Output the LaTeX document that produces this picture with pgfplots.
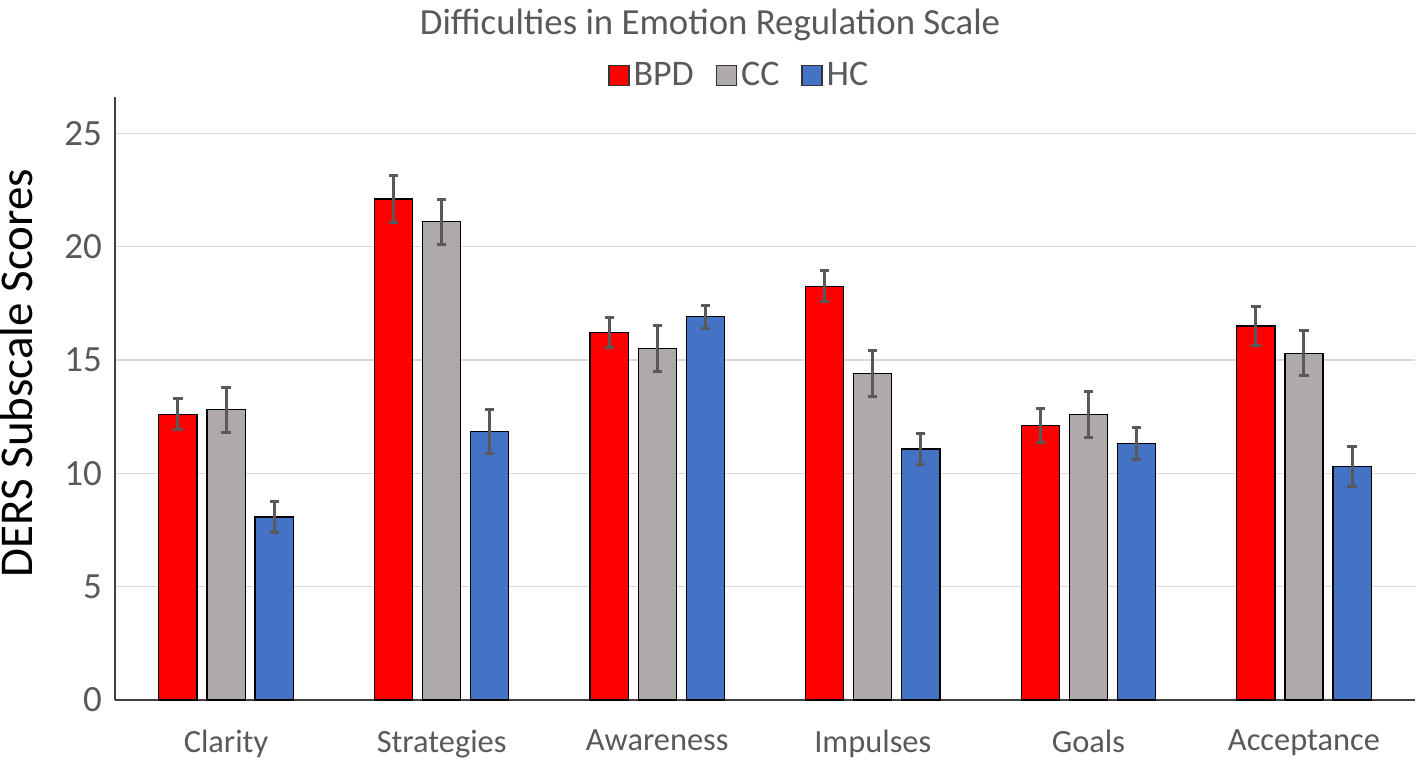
\documentclass[border=0pt]{standalone}
\usepackage{fontspec}
\setmainfont{Carlito}
\usepackage{pgfplots}
\pgfplotsset{compat=1.18}
\definecolor{bpd}{HTML}{FF0000}
\definecolor{cc}{HTML}{AEAAAA}
\definecolor{hc}{HTML}{4472C4}
\definecolor{txtgray}{HTML}{595959}
\definecolor{gridgray}{HTML}{D9D9D9}

\begin{document}
\begin{tikzpicture}
% fix the page to the reference proportions (1px = 0.5pt)
\path[use as bounding box] (-57.5pt,-30.5pt) rectangle (651.5pt,350pt);
\begin{axis}[
    at={(0,0)}, anchor=south west,
    scale only axis,
    width=650pt, height=301.5pt,
    xmin=-0.515, xmax=5.515,
    ymin=0, ymax=26.6,
    xtick={0,1,2,3,4,5},
    xticklabels={Clarity,Strategies,Awareness,Impulses,Goals,Acceptance},
    ytick={0,5,10,15,20,25},
    major tick length=0pt,
    ymajorgrids, grid style={gridgray, line width=0.6pt},
    axis x line*=bottom, axis y line*=left,
    axis line style={-, black!75, line width=0.8pt},
    /pgf/number format/assume math mode=true,
    yticklabel style={font=\fontsize{18.5}{22}\selectfont, text=txtgray, xshift=-3pt},
    xticklabel style={font=\fontsize{16.2}{19}\selectfont, text=txtgray, yshift=-11.5pt},
    ylabel={DERS Subscale Scores},
    ylabel style={font=\fontsize{23.5}{27}\selectfont, at={(axis description cs:-0.076,0.542)}, anchor=center},
    title={Difficulties in Emotion Regulation Scale},
    title style={font=\fontsize{18.4}{22}\selectfont, text=txtgray, at={(axis description cs:0.4577,1.099)}, anchor=center, yshift=0pt},
    legend columns=3,
    legend style={draw=none, fill=none, at={(0.481,1.036)}, anchor=center,
        font=\fontsize{18}{21}\selectfont, text=txtgray,
        /tikz/every even column/.append style={column sep=9pt}},
    ybar, bar width=0.177,
    error bars/y dir=both, error bars/y explicit,
    error bars/error bar style={line width=1.5pt, color=txtgray},
    error bars/error mark options={rotate=90, line width=1.5pt, mark size=2.3pt, color=txtgray},
]
\addplot[bar shift=-0.223, fill=bpd, draw=black, line width=0.6pt,
    legend image code/.code={\draw[fill=bpd, draw=black!80, line width=0.6pt] (0pt,-5pt) rectangle (10pt,5pt);}]
    coordinates {
    (0,12.6) +- (0,0.68)
    (1,22.1) +- (0,1.04)
    (2,16.2) +- (0,0.66)
    (3,18.25) +- (0,0.68)
    (4,12.1) +- (0,0.75)
    (5,16.5) +- (0,0.88)
};
\addplot[bar shift=0, fill=cc, draw=black, line width=0.6pt,
    legend image code/.code={\draw[fill=cc, draw=black!80, line width=0.6pt] (0pt,-5pt) rectangle (10pt,5pt);}]
    coordinates {
    (0,12.8) +- (0,1.0)
    (1,21.1) +- (0,1.0)
    (2,15.5) +- (0,1.0)
    (3,14.4) +- (0,1.0)
    (4,12.6) +- (0,1.0)
    (5,15.3) +- (0,1.0)
};
\addplot[bar shift=0.223, fill=hc, draw=black, line width=0.6pt,
    legend image code/.code={\draw[fill=hc, draw=black!80, line width=0.6pt] (0pt,-5pt) rectangle (10pt,5pt);}]
    coordinates {
    (0,8.07) +- (0,0.7)
    (1,11.86) +- (0,0.97)
    (2,16.9) +- (0,0.5)
    (3,11.07) +- (0,0.7)
    (4,11.33) +- (0,0.7)
    (5,10.3) +- (0,0.88)
};
\legend{BPD,CC,HC}
\end{axis}
\end{tikzpicture}
\end{document}
